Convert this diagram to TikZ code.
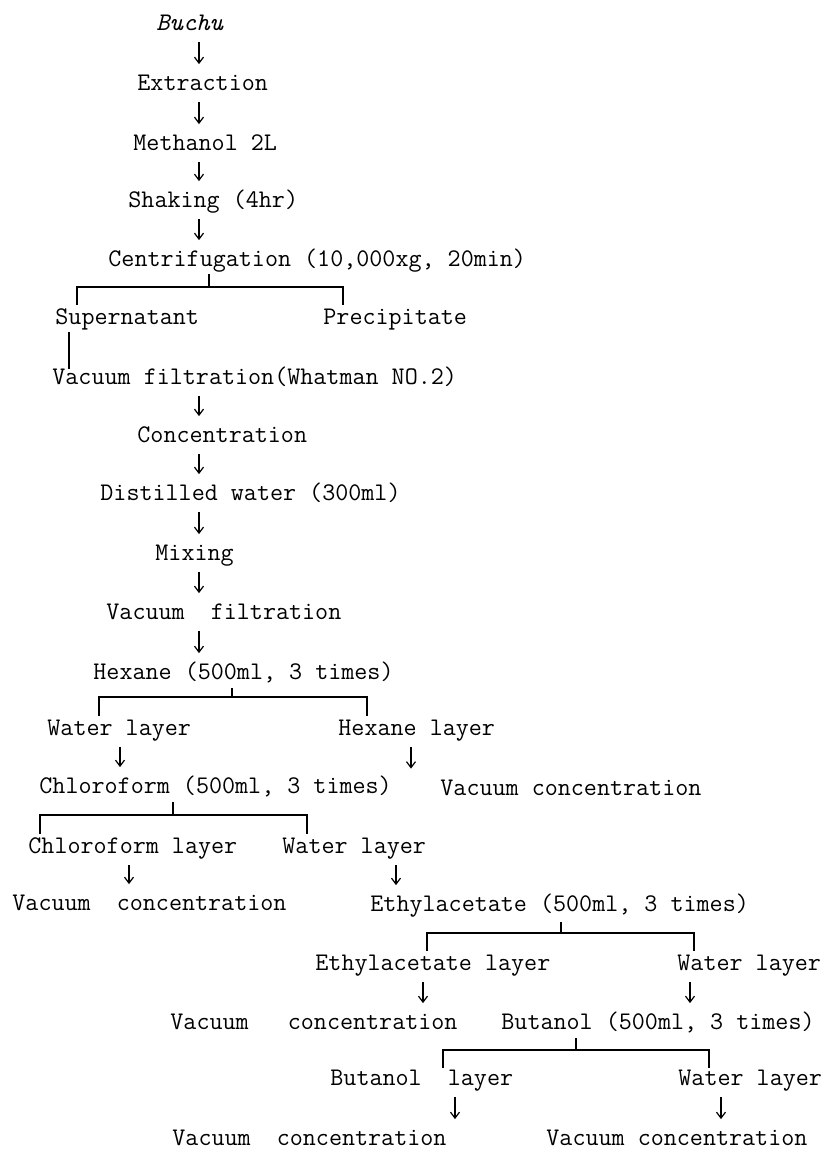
\documentclass[tikz,border=0pt]{standalone}
\usepackage{tikz}
\usetikzlibrary{arrows.meta}

\begin{document}
\begin{tikzpicture}[x=0.5pt, y=-0.5pt, >={Straight Barb[length=3pt,width=4.5pt]},
    lbl/.style={anchor=base west, inner sep=0pt, text height=7.5pt, text depth=0pt,
      font=\fontsize{12.67pt}{15pt}\selectfont\ttfamily},
    arr/.style={->, line width=0.6pt, shorten <=5.5pt, shorten >=5.5pt},
    tree/.style={line width=0.6pt}]
  \useasboundingbox (0,0) rectangle (836,1152);

  % main column
  \node[lbl] (buchu) at (156,30.5) {\itshape Buchu};
  \node[lbl] (extr) at (137,90.5) {Extraction};
  \node[lbl] (meth) at (133,150.5) {Methanol 2L};
  \node[lbl] (shak) at (128,207.5) {Shaking (4hr)};
  \node[lbl] (centr) at (108,266.5) {Centrifugation (10,000xg, 20min)};
  \node[lbl] (super) at (55,324.5) {Supernatant};
  \node[lbl] (prec) at (323,324.5) {Precipitate};
  \node[lbl] (vacf) at (52,384.5) {Vacuum filtration(Whatman NO.2)};
  \node[lbl] (conc) at (137,442.5) {Concentration};
  \node[lbl] (dist) at (100,500.5) {Distilled water (300ml)};
  \node[lbl] (mix) at (155,560.5) {Mixing};
  \node[lbl] (vacf2) at (106,619.5) {Vacuum~~filtration};
  \node[lbl] (hex) at (93,679.5) {Hexane (500ml, 3 times)};

  % hexane partition
  \node[lbl] (wat1) at (47,735.5) {Water layer};
  \node[lbl] (hexl) at (338,735.5) {Hexane layer};
  \node[lbl] (chl) at (39,793.5) {Chloroform (500ml, 3 times)};
  \node[lbl] (vc1) at (440,795) {Vacuum concentration};

  % chloroform partition
  \node[lbl] (chll) at (28,853.5) {Chloroform layer};
  \node[lbl] (wat2) at (282,853.5) {Water layer};
  \node[lbl] (vc2) at (12,910.5) {Vacuum~~concentration};
  \node[lbl] (ethy) at (370,911.5) {Ethylacetate (500ml, 3 times)};

  % ethylacetate partition
  \node[lbl] (ethl) at (315,970.5) {Ethylacetate layer};
  \node[lbl] (wat3) at (677,970.5) {Water layer};
  \node[lbl] (vc3) at (170,1029.5) {Vacuum~~~concentration};
  \node[lbl] (buta) at (501,1029.5) {Butanol (500ml, 3 times)};

  % butanol partition
  \node[lbl] (butl) at (330,1085.5) {Butanol~~layer};
  \node[lbl] (wat4) at (678,1085.5) {Water layer};
  \node[lbl] (vc4) at (172,1145.5) {Vacuum~~concentration};
  \node[lbl] (vc5) at (546,1145.5) {Vacuum concentration};

  % arrow columns
  \coordinate (spine) at (199,0);
  \coordinate (colA) at (120,0);
  \coordinate (colB) at (411,0);
  \coordinate (colC) at (129,0);
  \coordinate (colD) at (396,0);
  \coordinate (colE) at (423,0);
  \coordinate (colF) at (690,0);
  \coordinate (colG) at (455,0);
  \coordinate (colH) at (721,0);

  \draw[arr] (spine |- buchu.south) -- (spine |- extr.north);
  \draw[arr] (spine |- extr.south) -- (spine |- meth.north);
  \draw[arr] (spine |- meth.south) -- (spine |- shak.north);
  \draw[arr] (spine |- shak.south) -- (spine |- centr.north);
  \draw[arr] (spine |- vacf.south) -- (spine |- conc.north);
  \draw[arr] (spine |- conc.south) -- (spine |- dist.north);
  \draw[arr] (spine |- dist.south) -- (spine |- mix.north);
  \draw[arr] (spine |- mix.south) -- (spine |- vacf2.north);
  \draw[arr] (spine |- vacf2.south) -- (spine |- hex.north);
  \draw[arr] (colA |- wat1.south) -- (colA |- chl.north);
  \draw[arr] (colB |- hexl.south) -- (colB |- vc1.north);
  \draw[arr] (colC |- chll.south) -- (colC |- vc2.north);
  \draw[arr] (colD |- wat2.south) -- (colD |- ethy.north);
  \draw[arr] (colE |- ethl.south) -- (colE |- vc3.north);
  \draw[arr] (colF |- wat3.south) -- (colF |- buta.north);
  \draw[arr] (colG |- butl.south) -- (colG |- vc4.north);
  \draw[arr] (colH |- wat4.south) -- (colH |- vc5.north);

  % split brackets
  \coordinate (s1) at (209,287);
  \coordinate (s1a) at (77,287);
  \coordinate (s1b) at (343,287);
  \draw[tree, shorten >=3.5pt] (s1) -- (s1 |- centr.south);
  \draw[tree, shorten <=2pt, shorten >=2pt] (s1a |- super.north) -- (s1a) -- (s1b) -- (s1b |- prec.north);

  \coordinate (lnk) at (69,0);
  \draw[tree, shorten <=3.5pt] (lnk |- super.south) -- (lnk |- vacf.north);

  \coordinate (s2) at (232,697);
  \coordinate (s2a) at (99,697);
  \coordinate (s2b) at (367,697);
  \draw[tree, shorten >=4pt] (s2) -- (s2 |- hex.south);
  \draw[tree, shorten <=2pt, shorten >=2pt] (s2a |- wat1.north) -- (s2a) -- (s2b) -- (s2b |- hexl.north);

  \coordinate (s3) at (173,815);
  \coordinate (s3a) at (40,815);
  \coordinate (s3b) at (307,815);
  \draw[tree, shorten >=4pt] (s3) -- (s3 |- chl.south);
  \draw[tree, shorten <=2pt, shorten >=2pt] (s3a |- chll.north) -- (s3a) -- (s3b) -- (s3b |- wat2.north);

  \coordinate (s4) at (561,933);
  \coordinate (s4a) at (427,933);
  \coordinate (s4b) at (694,933);
  \draw[tree, shorten >=5pt] (s4) -- (s4 |- ethy.south);
  \draw[tree, shorten <=2pt, shorten >=2pt] (s4a |- ethl.north) -- (s4a) -- (s4b) -- (s4b |- wat3.north);

  \coordinate (s5) at (576,1050);
  \coordinate (s5a) at (443,1050);
  \coordinate (s5b) at (709,1050);
  \draw[tree, shorten >=4pt] (s5) -- (s5 |- buta.south);
  \draw[tree, shorten <=1pt, shorten >=1pt] (s5a |- butl.north) -- (s5a) -- (s5b) -- (s5b |- wat4.north);
\end{tikzpicture}
\end{document}
